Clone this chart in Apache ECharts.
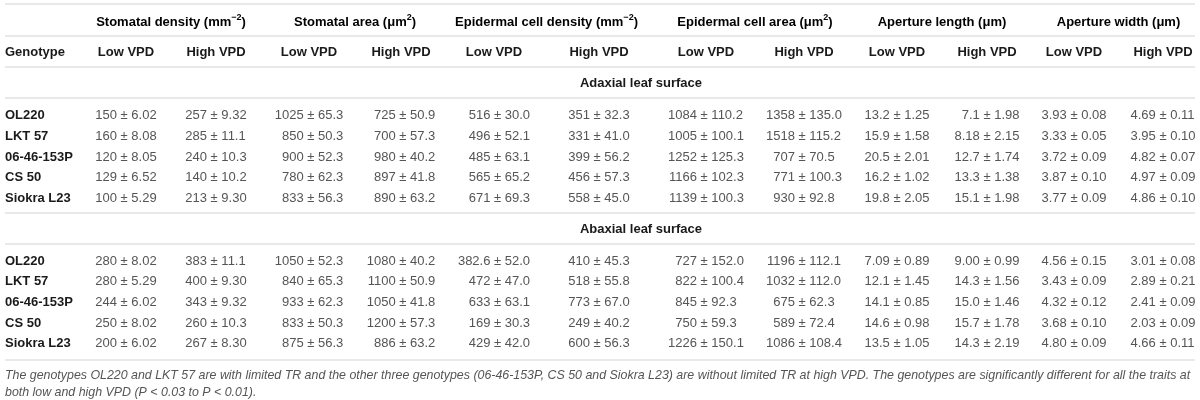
<!DOCTYPE html>
<html>
<head>
<meta charset="utf-8">
<title>Stomatal and epidermal traits</title>
<script src="https://cdn.jsdelivr.net/npm/echarts@6/dist/echarts.min.js"></script>
<style>
    html, body { margin: 0; padding: 0; background: #fff; }
    #table { width: 1200px; height: 400px; }
</style>
</head>
<body>
<div id="table"></div>
<script>
// 表格内容
const genotypes = ['OL220', 'LKT 57', '06-46-153P', 'CS 50', 'Siokra L23'];
const traits = ['Stomatal density', 'Stomatal area', 'Epidermal cell density', 'Epidermal cell area', 'Aperture length', 'Aperture width'];
const traitUnits = ['mm', 'μm', 'mm', 'μm', 'μm', 'μm'];
const traitExponents = ['−2', '2', '−2', '2', '', ''];
const conditions = ['Low VPD', 'High VPD'];
const surfaces = ['Adaxial leaf surface', 'Abaxial leaf surface'];

// 均值（按基因型，每行 12 列：6 个性状 × 低/高 VPD）
const adaxialMean = [
    ['150', '257', '1025', '725', '516', '351', '1084', '1358', '13.2', '7.1', '3.93', '4.69'],
    ['160', '285', '850', '700', '496', '331', '1005', '1518', '15.9', '8.18', '3.33', '3.95'],
    ['120', '240', '900', '980', '485', '399', '1252', '707', '20.5', '12.7', '3.72', '4.82'],
    ['129', '140', '780', '897', '565', '456', '1166', '771', '16.2', '13.3', '3.87', '4.97'],
    ['100', '213', '833', '890', '671', '558', '1139', '930', '19.8', '15.1', '3.77', '4.86']
];
const adaxialSd = [
    ['6.02', '9.32', '65.3', '50.9', '30.0', '32.3', '110.2', '135.0', '1.25', '1.98', '0.08', '0.11'],
    ['8.08', '11.1', '50.3', '57.3', '52.1', '41.0', '100.1', '115.2', '1.58', '2.15', '0.05', '0.10'],
    ['8.05', '10.3', '52.3', '40.2', '63.1', '56.2', '125.3', '70.5', '2.01', '1.74', '0.09', '0.07'],
    ['6.52', '10.2', '62.3', '41.8', '65.2', '57.3', '102.3', '100.3', '1.02', '1.38', '0.10', '0.09'],
    ['5.29', '9.30', '56.3', '63.2', '69.3', '45.0', '100.3', '92.8', '2.05', '1.98', '0.09', '0.10']
];
const abaxialMean = [
    ['280', '383', '1050', '1080', '382.6', '410', '727', '1196', '7.09', '9.00', '4.56', '3.01'],
    ['280', '400', '840', '1100', '472', '518', '822', '1032', '12.1', '14.3', '3.43', '2.89'],
    ['244', '343', '933', '1050', '633', '773', '845', '675', '14.1', '15.0', '4.32', '2.41'],
    ['250', '260', '833', '1200', '169', '249', '750', '589', '14.6', '15.7', '3.68', '2.03'],
    ['200', '267', '875', '886', '429', '600', '1226', '1086', '13.5', '14.3', '4.80', '4.66']
];
const abaxialSd = [
    ['8.02', '11.1', '52.3', '40.2', '52.0', '45.3', '152.0', '112.1', '0.89', '0.99', '0.15', '0.08'],
    ['5.29', '9.30', '65.3', '50.9', '47.0', '55.8', '100.4', '112.0', '1.45', '1.56', '0.09', '0.21'],
    ['6.02', '9.32', '62.3', '41.8', '63.1', '67.0', '92.3', '62.3', '0.85', '1.46', '0.12', '0.09'],
    ['8.02', '10.3', '50.3', '57.3', '30.3', '40.2', '59.3', '72.4', '0.98', '1.78', '0.10', '0.09'],
    ['6.02', '8.30', '56.3', '63.2', '42.0', '56.3', '150.1', '108.4', '1.05', '2.19', '0.09', '0.11']
];
const footnote = [
    'The genotypes OL220 and LKT 57 are with limited TR and the other three genotypes (06-46-153P, CS 50 and Siokra L23) are without limited TR at high VPD. The genotypes are significantly different for all the traits at',
    'both low and high VPD (P < 0.03 to P < 0.01).'
];

// 版式（像素坐标系，对应 1200×400 画布）
const colCenters = [126, 216, 309, 401, 494, 599, 706, 804, 897, 987, 1074, 1163];
const genotypeX = 5;
const ruleLeft = 5;
const ruleRight = 1195;
const headerY = [21, 52];
const sectionY = [83, 229];
const bodyY = [[115, 136, 157, 177, 198], [261, 281.5, 302, 323, 343]];
const ruleY = [4, 36, 67, 98, 213, 244, 360];
const footnoteY = [376, 393];
const sectionCenter = 641;

const FONT = '"Liberation Sans", Arial, Helvetica, sans-serif';
const BOLD_COLOR = '#1a1a1a';
const BODY_COLOR = '#555555';

document.addEventListener('DOMContentLoaded', function() {
    initTable();
});

function initTable() {
    const el = document.getElementById('table');
    echarts.dispose(el);
    const chart = echarts.init(el);

    // 计算每列的 ± 对齐位置
    const ctx = document.createElement('canvas').getContext('2d');
    ctx.font = '13px ' + FONT;
    const means = [adaxialMean, abaxialMean];
    const sds = [adaxialSd, abaxialSd];
    const anchors = colCenters.map((c, j) => {
        let maxL = 0, maxR = 0;
        for (let s = 0; s < 2; s++) {
            for (let i = 0; i < genotypes.length; i++) {
                maxL = Math.max(maxL, ctx.measureText(means[s][i][j]).width);
                maxR = Math.max(maxR, ctx.measureText(' ± ' + sds[s][i][j]).width);
            }
        }
        return c - (maxL + maxR) / 2 + maxL;
    });

    // 单元格数据：[x, y, 文本, 类型, 右侧文本]
    const cells = [];
    traits.forEach((t, k) => {
        const exp = traitExponents[k] ? '{sup|' + traitExponents[k] + '}' : '';
        const x = (colCenters[2 * k] + colCenters[2 * k + 1]) / 2;
        cells.push([x, headerY[0], '{b|' + t + ' (' + traitUnits[k] + '}' + exp + '{b|)}', 'rich', '']);
    });
    cells.push([genotypeX, headerY[1], 'Genotype', 'left', '']);
    colCenters.forEach((c, j) => {
        cells.push([c, headerY[1], conditions[j % 2], 'center', '']);
    });
    surfaces.forEach((name, s) => {
        cells.push([sectionCenter, sectionY[s], name, 'center', '']);
        genotypes.forEach((g, i) => {
            cells.push([genotypeX, bodyY[s][i], g, 'left', '']);
            colCenters.forEach((c, j) => {
                cells.push([anchors[j], bodyY[s][i], means[s][i][j], 'value', '± ' + sds[s][i][j]]);
            });
        });
    });
    footnote.forEach((line, i) => {
        cells.push([genotypeX, footnoteY[i], line, 'note', '']);
    });

    const rules = ruleY.map(y => [ruleLeft, ruleRight, y]);

    const option = {
        animation: false,
        grid: { left: 0, right: 0, top: 0, bottom: 0 },
        xAxis: { type: 'value', min: 0, max: 1200, show: false },
        yAxis: { type: 'value', min: 0, max: 400, inverse: true, show: false },
        series: [
            {
                name: 'rules',
                type: 'custom',
                silent: true,
                data: rules,
                renderItem: function(params, api) {
                    const a = api.coord([api.value(0), api.value(2)]);
                    const b = api.coord([api.value(1), api.value(2)]);
                    return {
                        type: 'line',
                        shape: { x1: a[0], y1: a[1], x2: b[0], y2: b[1] },
                        style: { stroke: '#e2e2e2', lineWidth: 1.5 }
                    };
                }
            },
            {
                name: 'cells',
                type: 'custom',
                silent: true,
                data: cells,
                renderItem: function(params, api) {
                    const item = cells[params.dataIndex];
                    const p = api.coord([item[0], item[1]]);
                    const kind = item[3];
                    if (kind === 'value') {
                        return {
                            type: 'group',
                            children: [
                                {
                                    type: 'text',
                                    style: { x: p[0], y: p[1], text: item[2], align: 'right', verticalAlign: 'middle', font: '13px ' + FONT, fill: BODY_COLOR }
                                },
                                {
                                    type: 'text',
                                    style: { x: p[0] + 3.6, y: p[1], text: item[4], align: 'left', verticalAlign: 'middle', font: '13px ' + FONT, fill: BODY_COLOR }
                                }
                            ]
                        };
                    }
                    if (kind === 'rich') {
                        return {
                            type: 'text',
                            style: {
                                x: p[0], y: p[1], text: item[2], align: 'center', verticalAlign: 'middle',
                                rich: {
                                    b: { fontFamily: FONT, fontSize: 13, fontWeight: 'bold', color: BOLD_COLOR, lineHeight: 15, verticalAlign: 'bottom' },
                                    sup: { fontFamily: FONT, fontSize: 9, fontWeight: 'bold', color: BOLD_COLOR, lineHeight: 14, verticalAlign: 'top' }
                                }
                            }
                        };
                    }
                    if (kind === 'note') {
                        return {
                            type: 'text',
                            style: { x: p[0], y: p[1], text: item[2], align: 'left', verticalAlign: 'middle', font: 'italic 12.4px ' + FONT, fill: '#555555' }
                        };
                    }
                    return {
                        type: 'text',
                        style: { x: p[0], y: p[1], text: item[2], align: kind, verticalAlign: 'middle', font: 'bold 13px ' + FONT, fill: BOLD_COLOR }
                    };
                }
            }
        ]
    };

    chart.setOption(option);

    window.addEventListener('resize', function() {
        chart.resize();
    });
}
</script>
</body>
</html>
